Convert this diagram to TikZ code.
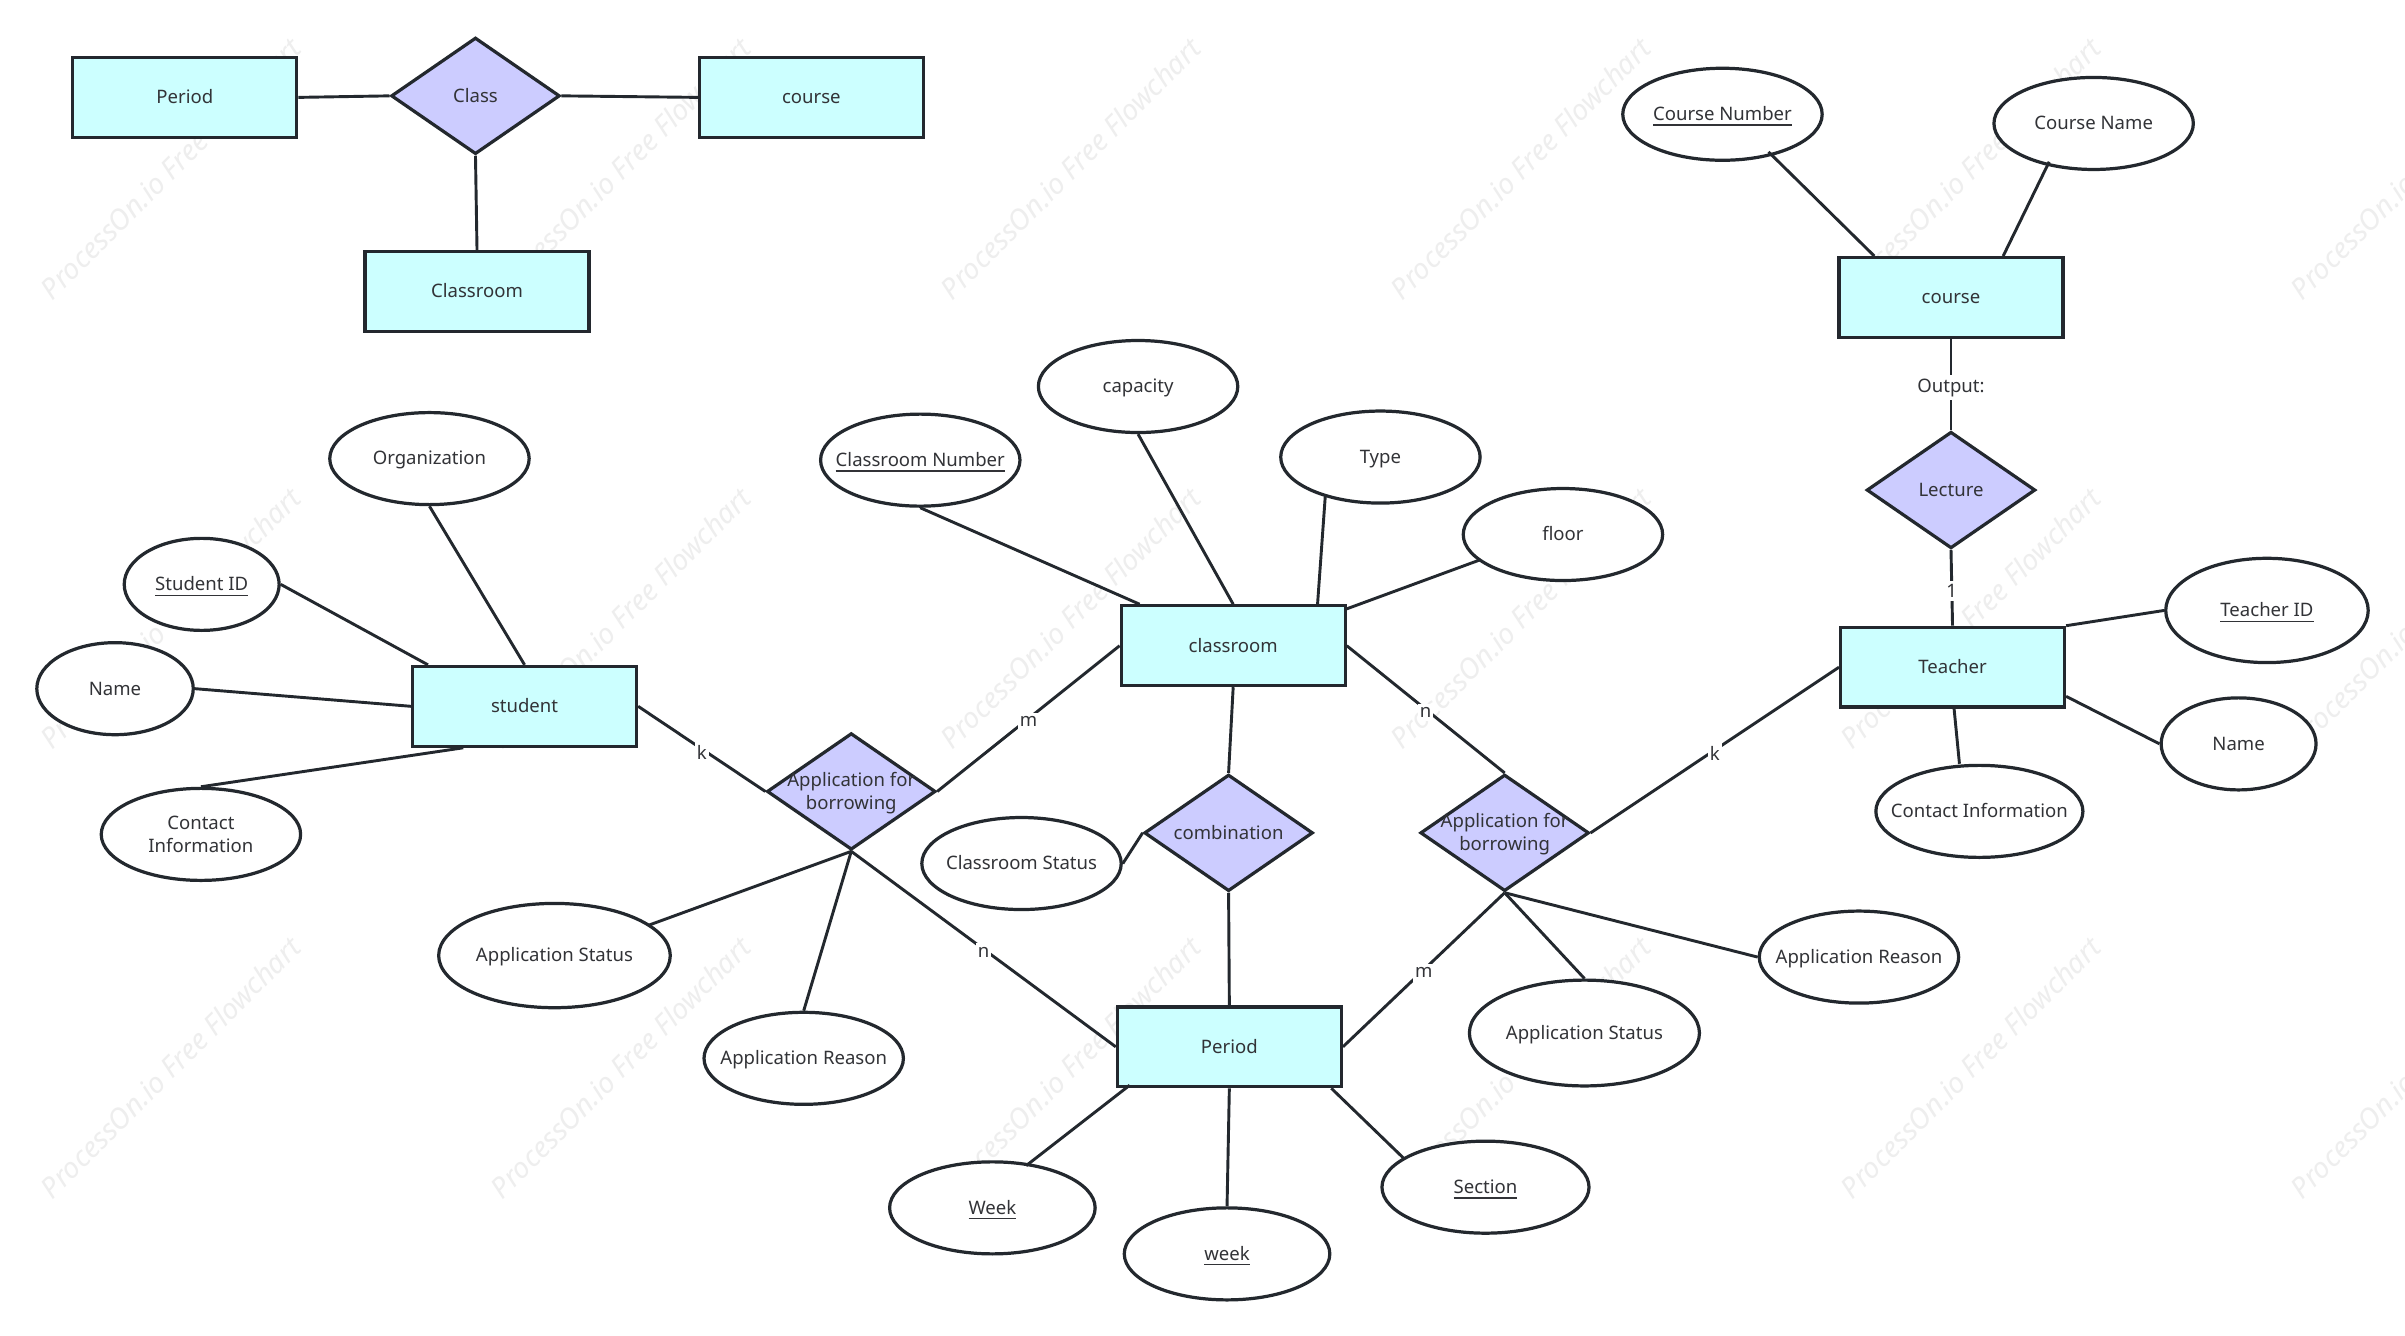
\documentclass[tikz,border=0pt]{standalone}
\usepackage{fontspec}
\setmainfont{Noto Sans}
\usetikzlibrary{shapes.geometric,calc}
\definecolor{ink}{HTML}{23282E}
\definecolor{txt}{HTML}{323337}
\definecolor{ent}{HTML}{CCFFFF}
\definecolor{rel}{HTML}{CCCCFF}
\definecolor{wm}{HTML}{EEEEEE}
\newcommand{\ctext}[1]{\smash{\makebox[0pt]{\raisebox{-0.34em}{\begin{tabular}{@{}c@{}}#1\end{tabular}}}}}
\renewcommand{\arraystretch}{1.0}
\tikzset{
  x=0.5pt,y=-0.5pt,
  base/.style={draw=ink,line width=1.05pt,inner sep=0pt,text=txt,font=\fontsize{6.05pt}{7.6pt}\selectfont},
  entity/.style={base,rectangle,fill=ent,minimum width=73pt,minimum height=26pt},
  relation/.style={base,diamond,fill=rel,minimum width=55pt,minimum height=38pt},
  attr/.style={base,ellipse,fill=white,minimum width=65pt,minimum height=30pt},
  link/.style={draw=ink,line width=0.95pt},
  card/.style={fill=white,inner xsep=0.6pt,inner ysep=1.2pt,yshift=-1pt,text=txt,font=\fontsize{6.05pt}{7.6pt}\selectfont},
  mark text/.style={text=wm,rotate=45,font=\fontsize{9.3pt}{11pt}\selectfont\itshape,inner sep=0pt}
}
\begin{document}
\begin{tikzpicture}
\useasboundingbox (0,0) rectangle (1568,871);
\fill[white] (0,0) rectangle (1568,871);
% watermarks
\foreach \i in {0,...,5}{\foreach \j in {0,1,2}{
  \node[mark text] (wm\i\j) at ({111+293.4*\i},{110+293*\j}) {ProcessOn.io Free Flowchart};
}}
% top left
\node[entity] (pTop) at (120.5,63.5) {\ctext{Period}};
\node[relation] (class) at (310,62.5) {\ctext{Class}};
\node[entity] (cTop) at (529,63.5) {\ctext{course}};
\node[entity] (rTop) at (311,190) {\ctext{Classroom}};
% course / teacher
\node[attr] (cnum) at (1123,74.5) {\ctext{\underline{Course Number}}};
\node[attr] (cname) at (1365,80.5) {\ctext{Course Name}};
\node[entity] (course) at (1272,194) {\ctext{course}};
\node[relation] (lecture) at (1272,319.5) {\ctext{Lecture}};
\node[entity] (teacher) at (1273,435) {\ctext{Teacher}};
\node[attr,minimum width=66pt,minimum height=34pt] (tid) at (1478,398) {\ctext{\underline{Teacher ID}}};
\node[attr,minimum width=50.5pt] (tname) at (1459.5,485) {\ctext{Name}};
\node[attr,minimum width=67.5pt] (tcontact) at (1290.5,529) {\ctext{Contact Information}};
% classroom
\node[entity] (room) at (804,421) {\ctext{classroom}};
\node[attr] (capacity) at (742,252) {\ctext{capacity}};
\node[attr] (rnum) at (600,300) {\ctext{\underline{Classroom Number}}};
\node[attr] (type) at (900,298) {\ctext{Type}};
\node[attr] (floor) at (1019,348.5) {\ctext{floor}};
\node[relation] (combo) at (801,543) {\ctext{combination}};
\node[attr] (rstatus) at (666,563) {\ctext{Classroom Status}};
% period
\node[entity] (period) at (801.5,682.5) {\ctext{Period}};
\node[attr,minimum width=67pt] (week) at (647,787.5) {\ctext{\underline{Week}}};
\node[attr,minimum width=67pt] (wk) at (800,817.5) {\ctext{\underline{week}}};
\node[attr,minimum width=67.5pt] (section) at (968.5,774) {\ctext{\underline{Section}}};
% student
\node[entity] (student) at (342,460.5) {\ctext{student}};
\node[attr] (org) at (280,299) {\ctext{Organization}};
\node[attr,minimum width=50.5pt] (sid) at (131.5,381) {\ctext{\underline{Student ID}}};
\node[attr,minimum width=51pt] (sname) at (75,449) {\ctext{Name}};
\node[attr] (scontact) at (131,544) {\ctext{Contact\\Information}};
% applications
\node[relation] (appL) at (555,516) {\ctext{Application for\\borrowing}};
\node[relation] (appR) at (981,543) {\ctext{Application for\\borrowing}};
\node[attr,minimum width=75.5pt,minimum height=34pt] (lstatus) at (361.5,623) {\ctext{Application Status}};
\node[attr] (lreason) at (524,690) {\ctext{Application Reason}};
\node[attr,minimum width=75pt,minimum height=34.5pt] (rstat) at (1033,673.5) {\ctext{Application Status}};
\node[attr] (rreason) at (1212,624) {\ctext{Application Reason}};
% connectors
\draw[link] (pTop.east) -- (class.west);
\draw[link] (class.east) -- (cTop.west);
\draw[link] (class.south) -- (rTop.north);
\draw[link] ([shift={(30,24.5)}]cnum.center) -- ([shift={(-50,0)}]course.north);
\draw[link] ([shift={(-29,25)}]cname.center) -- ([shift={(34,0)}]course.north);
\draw[link] (course.south) -- node[card] (lOut) {Output:} (lecture.north);
\draw[link] (lecture.south) -- node[card] (lOne) {1} (teacher.north);
\draw[link] (teacher.north east) -- (tid.west);
\draw[link] ([shift={(0,19)}]teacher.east) -- (tname.west);
\draw[link] ([shift={(1,0)}]teacher.south) -- ([shift={(-13,0)}]tcontact.north);
\draw[link] (rnum.south) -- ([shift={(-61,0)}]room.north);
\draw[link] (capacity.south) -- (room.north);
\draw[link] ([shift={(-36,26)}]type.center) -- ([shift={(55,0)}]room.north);
\draw[link] ([shift={(-54,16.5)}]floor.center) -- ([shift={(0,3)}]room.north east);
\draw[link] (room.west) -- node[card] (lm1) {m} (appL.east);
\draw[link] (room.east) -- node[card] (ln1) {n} (appR.north);
\draw[link] (room.south) -- (combo.north);
\draw[link] (combo.south) -- (period.north);
\draw[link] (rstatus.east) -- (combo.west);
\draw[link] (student.east) -- node[card] (lk1) {k} (appL.west);
\draw[link] (appL.south) -- node[card] (ln2) {n} (period.west);
\draw[link] (appL.south) -- ([shift={(62,-20)}]lstatus.center);
\draw[link] (appL.south) -- (lreason.north);
\draw[link] (appR.east) -- node[card] (lk2) {k} (teacher.west);
\draw[link] (appR.south) -- node[card] (lm2) {m} (period.east);
\draw[link] (appR.south) -- (rstat.north);
\draw[link] (appR.south) -- (rreason.west);
\draw[link] (org.south) -- (student.north);
\draw[link] (sid.east) -- ([shift={(-63,0)}]student.north);
\draw[link] (sname.east) -- (student.west);
\draw[link] (scontact.north) -- ([shift={(-40,0)}]student.south);
\draw[link] ([shift={(-65,-2)}]period.south) -- ([shift={(22,-27.5)}]week.center);
\draw[link] (period.south) -- (wk.north);
\draw[link] ([shift={(66.5,0)}]period.south) -- ([shift={(-53.5,-19)}]section.center);
\end{tikzpicture}
\end{document}
